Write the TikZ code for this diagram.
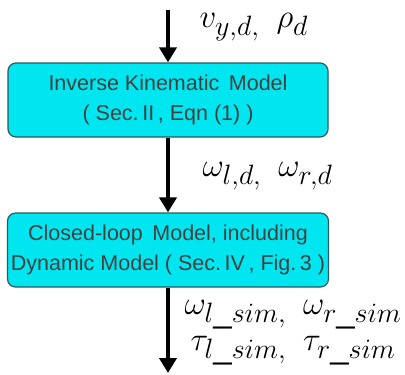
\RequirePackage{fix-cm}
\documentclass[tikz,border=0pt]{standalone}
\usepackage{fontspec}
\setmainfont{Liberation Sans}
\usetikzlibrary{arrows.meta}
\DeclareMathSizes{33}{33}{28}{20}
\definecolor{boxcyan}{RGB}{0,230,240}
\definecolor{boxline}{RGB}{40,90,95}
\newcommand{\lowsub}{\fontdimen16\textfont2=8pt}
\tikzset{
	modelbox/.style={draw=boxline, line width=1.2pt, fill=boxcyan, rounded corners=8pt,
		minimum width=320pt, minimum height=74pt, align=center, text=black!75,
		font=\fontsize{21.5}{30}\selectfont},
	flow/.style={line width=4pt, -{Triangle[length=15pt, width=17pt]}},
	sig/.style={font=\fontsize{33}{40}\selectfont}
}

\begin{document}
\begin{tikzpicture}[x=1pt, y=-1pt]
		%%%%% START %%%%%
		\useasboundingbox[fill=white] (0, 0) rectangle (405, 375);
		
		\coordinate (in) at (168, 10);
		\node[modelbox] (ikm) at (168, 100) {Inverse Kinematic\, Model\\( Sec.\,$\mathrm{II}$\,, Eqn (1) )};
		\node[modelbox] (clm) at (168, 250) {Closed-loop\, Model, including\\Dynamic Model ( Sec.\,$\mathrm{IV}$\,, Fig.\,3 )};
		\coordinate (out) at (168, 373);
		
		\draw[flow] (in) -- (ikm.north);
		\draw[flow] (ikm.south) -- (clm.north);
		\draw[flow] (clm.south) -- (out);
		
		\node[sig, anchor=base west] (vin) at (196, 27) {$\lowsub v_{y,d,}\hspace{17pt}\rho_d$};
		\node[sig, anchor=base west] (wd) at (199, 176) {$\lowsub \omega_{l,d,}\hspace{17pt}\omega_{r,d}$};
		\node[sig, anchor=base] (wsim) at (293, 314) {$\lowsub \omega_{l\_sim,}\hspace{17pt}\omega_{r\_sim}$};
		\node[sig, anchor=base] (tsim) at (293, 350) {$\lowsub \tau_{l\_sim,}\hspace{17pt}\tau_{r\_sim}$};
		
		%%%%% END %%%%%
	\end{tikzpicture}
\end{document}
